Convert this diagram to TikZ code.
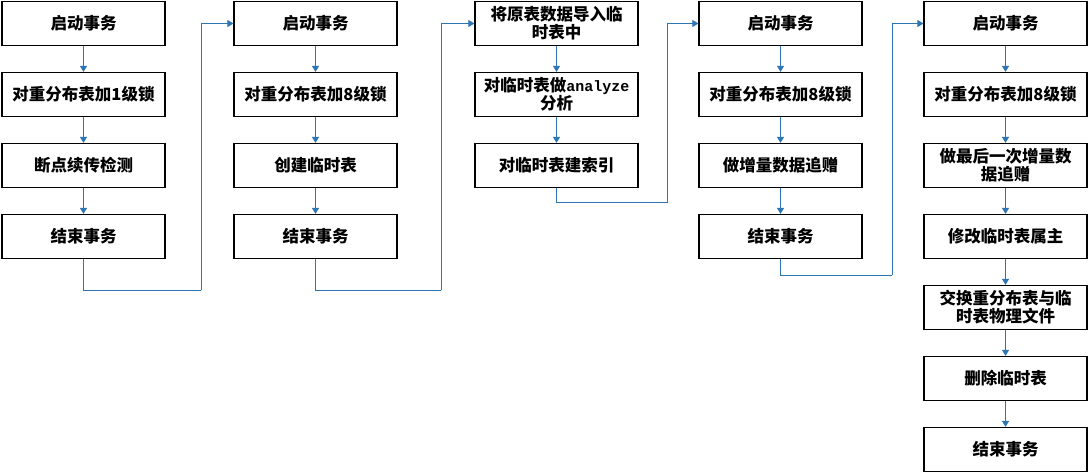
\documentclass[tikz,border=0pt]{standalone}
\usepackage{fontspec}
\usetikzlibrary{arrows.meta}
\newfontfamily\cjk{Noto Sans CJK SC}
\newfontfamily\monofnt{Liberation Mono}
\definecolor{linkblue}{RGB}{46,117,182}
\begin{document}
\begin{tikzpicture}[x=1pt,y=-1pt,
  box/.style={draw=black,line width=1.2pt,minimum width=163pt,minimum height=44pt,inner sep=1pt,align=center,
    font=\cjk\bfseries\fontsize{16.5}{18}\selectfont},
  conn/.style={draw=linkblue,line width=1pt,-{Triangle[length=6pt,width=7pt]}},
  link/.style={draw=linkblue,line width=1pt}]
\useasboundingbox (0,0) rectangle (1089,473);
% column 1
\node[box] (a1) at (83.5,23.5) {启动事务};
\node[box] (a2) at (83.5,94.5) {对重分布表加1级锁};
\node[box] (a3) at (83.5,165.5) {断点续传检测};
\node[box] (a4) at (83.5,236.5) {结束事务};
% column 2
\node[box] (b1) at (315.5,23.5) {启动事务};
\node[box] (b2) at (315.5,94.5) {对重分布表加8级锁};
\node[box] (b3) at (315.5,165.5) {创建临时表};
\node[box] (b4) at (315.5,236.5) {结束事务};
% column 3
\node[box] (c1) at (556.5,23.5) {将原表数据导入临\\时表中};
\node[box] (c2) at (556.5,94.5) {对临时表做{\monofnt\bfseries\fontsize{15}{18}\selectfont analyze}\\分析};
\node[box] (c3) at (556.5,165.5) {对临时表建索引};
% column 4
\node[box] (d1) at (780.5,23.5) {启动事务};
\node[box] (d2) at (780.5,94.5) {对重分布表加8级锁};
\node[box] (d3) at (780.5,165.5) {做增量数据追赠};
\node[box] (d4) at (780.5,236.5) {结束事务};
% column 5
\node[box] (e1) at (1005.5,23.5) {启动事务};
\node[box] (e2) at (1005.5,94.5) {对重分布表加8级锁};
\node[box] (e3) at (1005.5,165.5) {做最后一次增量数\\据追赠};
\node[box] (e4) at (1005.5,236.5) {修改临时表属主};
\node[box] (e5) at (1005.5,307.5) {交换重分布表与临\\时表物理文件};
\node[box] (e6) at (1005.5,378.5) {删除临时表};
\node[box] (e7) at (1005.5,449.5) {结束事务};
% vertical arrows
\foreach \p/\q in {a1/a2,a2/a3,a3/a4,b1/b2,b2/b3,b3/b4,c1/c2,c2/c3,d1/d2,d2/d3,d3/d4,e1/e2,e2/e3,e3/e4,e4/e5,e5/e6,e6/e7}
  \draw[conn] (\p.south) -- (\q.north);
% column jumps
\coordinate (k1) at (201,290);
\coordinate (k2) at (441,290);
\coordinate (k3) at (667,203);
\coordinate (k4) at (892,275);
\draw[link] (a4.south) |- (k1);
\draw[conn] (k1) |- (b1.west);
\draw[link] (b4.south) |- (k2);
\draw[conn] (k2) |- (c1.west);
\draw[link] (c3.south) |- (k3);
\draw[conn] (k3) |- (d1.west);
\draw[link] (d4.south) |- (k4);
\draw[conn] (k4) |- (e1.west);
\end{tikzpicture}
\end{document}
